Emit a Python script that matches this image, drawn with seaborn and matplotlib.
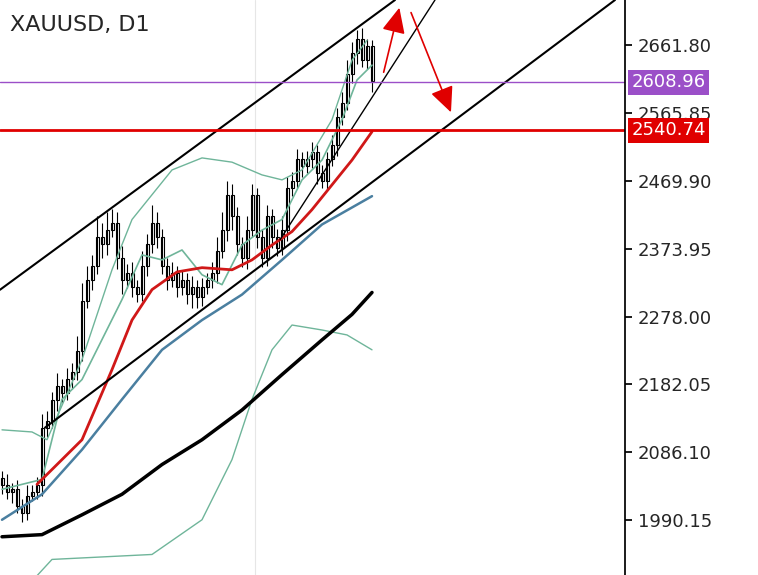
import matplotlib
matplotlib.use("Agg")
import matplotlib.pyplot as plt
import seaborn as sns
import numpy as np
import pandas as pd

sns.set_theme(style="white")
plt.rcParams['font.family'] = ['DejaVu Sans']

closes = [2040,2030,2035,2010,2000,2025,2030,2040,2120,2130,2160,2180,2170,2190,2200,2230,
          2300,2330,2350,2390,2380,2400,2410,2360,2330,2340,2320,2310,2350,2380,2410,2390,
          2350,2330,2340,2320,2330,2310,2320,2305,2320,2330,2340,2370,2400,2450,2420,2380,
          2360,2400,2450,2390,2360,2420,2390,2375,2400,2460,2470,2500,2490,2500,2510,2480,
          2470,2500,2520,2560,2580,2620,2650,2670,2640,2660,2610]
up_wick = [10,15,8,12,10,15,10,12,20,15,12,18,10,15,12,20,25,20,15,30,20,25,20,15,18,12,
           15,10,20,15,25,15,12,10,15,10,12,10,15,10,12,10,15,20,25,20,15,12,10,20,15,10,
           12,15,10,12,20,15,12,15,10,12,15,10,12,10,15,12,15,20,15,12,15,10,8]
lo_wick = [12,10,15,10,12,10,8,10,15,12,10,15,12,10,15,12,15,10,15,12,20,15,10,15,20,12,
           15,12,10,15,12,15,12,15,10,15,12,15,20,15,12,10,12,15,10,15,20,15,12,15,10,15,
           12,10,15,12,10,15,12,10,15,10,12,15,10,12,10,15,12,10,12,15,10,12,15]
opens = [closes[0] + 10] + closes[:-1]

ma_green = ([0,8,12,16,24,28,32,36,40,44,48,52,56,60,64,68,71,74],
            [2034,2048,2161,2189,2302,2365,2358,2372,2337,2323,2379,2400,2415,2471,2499,2556,2612,2633])
band_up = ([0,6,9,16,22,26,30,34,40,46,52,56,60,66,70,73],
           [2118,2115,2104,2217,2344,2415,2450,2485,2502,2496,2478,2471,2485,2556,2640,2668])
band_lo = ([7,10,30,40,46,50,54,58,64,69,74],
           [1912,1935,1942,1991,2076,2161,2231,2266,2259,2252,2231])
ma_red = ([7,16,22,26,30,35,40,46,50,54,58,62,66,70,74],
          [2041,2104,2203,2273,2316,2341,2347,2344,2358,2379,2398,2429,2464,2499,2539])
ma_blue = ([0,8,16,24,32,40,48,56,64,70,74],
           [1991,2027,2090,2161,2231,2273,2309,2358,2408,2432,2448])
ma_black = ([0,8,16,24,32,40,48,56,64,70,74],
            [1967,1970,1998,2027,2069,2104,2146,2196,2245,2281,2312])

ticks = [2661.80, 2565.85, 2469.90, 2373.95, 2278.00, 2182.05, 2086.10, 1990.15]
line_purple = 2608.96
line_red = 2540.74

fig = plt.figure(figsize=(7.58, 5.75), dpi=100)
ax = fig.add_axes([0, 0, 625/758, 1])
ax.set_xlim(-0.4, 124.6)
ax.set_ylim(1913, 2725)

for i, (o, c) in enumerate(zip(opens, closes)):
    hi = max(o, c) + up_wick[i]
    lo = min(o, c) - lo_wick[i]
    ax.vlines(i, lo, hi, color='black', lw=0.8)
    ax.add_patch(plt.Rectangle((i - 0.3, min(o, c)), 0.6, max(abs(c - o), 1),
                               facecolor='white', edgecolor='black', lw=0.8))

sns.lineplot(x=ma_green[0], y=ma_green[1], ax=ax, color='#6fb59a', lw=1.2)
sns.lineplot(x=band_up[0], y=band_up[1], ax=ax, color='#6fb59a', lw=1.0)
sns.lineplot(x=band_lo[0], y=band_lo[1], ax=ax, color='#6fb59a', lw=1.0)
sns.lineplot(x=ma_red[0], y=ma_red[1], ax=ax, color='#d01818', lw=2)
sns.lineplot(x=ma_blue[0], y=ma_blue[1], ax=ax, color='#4a7fa0', lw=1.8)
sns.lineplot(x=ma_black[0], y=ma_black[1], ax=ax, color='black', lw=2.5)

# channel lines (pixel-derived: x idx=(px-2)/5, price=2725-1.411*py)
def P(px, py):
    return ((px - 2) / 5, 2725 - 1.411 * py)
for a, b, lw in [((0, 290), (395, 0), 1.5), ((45, 428), (615, 0), 1.5), ((280, 240), (435, 0), 1.0)]:
    (x1, y1), (x2, y2) = P(*a), P(*b)
    ax.plot([x1, x2], [y1, y2], color='black', lw=lw)

ax.axhline(line_purple, color='#9b4fc8', lw=1)
ax.axhline(line_red, color='#e00000', lw=2)
ax.axvline((255 - 2) / 5, color='#e6e6e6', lw=0.8, zorder=0)

for a, b in [((383, 75), (400, 5)), ((410, 10), (452, 115))]:
    ax.annotate('', xy=P(*b), xytext=P(*a),
                arrowprops=dict(arrowstyle='-|>,head_width=0.6,head_length=1.3', color='#e00000', lw=1.2))

ax.text(10 / 625, 1 - 25 / 575, 'XAUUSD, D1', transform=ax.transAxes, fontsize=16, va='center')

for s in ['top', 'left', 'bottom']:
    ax.spines[s].set_visible(False)
ax.spines['right'].set_color('black')
ax.yaxis.tick_right()
ax.set_yticks(ticks)
ax.set_yticklabels([f'{t:.2f}' for t in ticks], fontsize=13)
ax.tick_params(axis='y', length=5, color='black', direction='out', pad=4)
ax.set_xticks([])
for val, col in [(line_purple, '#9b4fc8'), (line_red, '#e00000')]:
    ax.text(1.01, val, f'{val:.2f}', transform=ax.get_yaxis_transform(), fontsize=13,
            color='white', va='center', ha='left',
            bbox=dict(boxstyle='square,pad=0.2', fc=col, ec='none'), clip_on=False)

fig.savefig('out.png', dpi=100)
